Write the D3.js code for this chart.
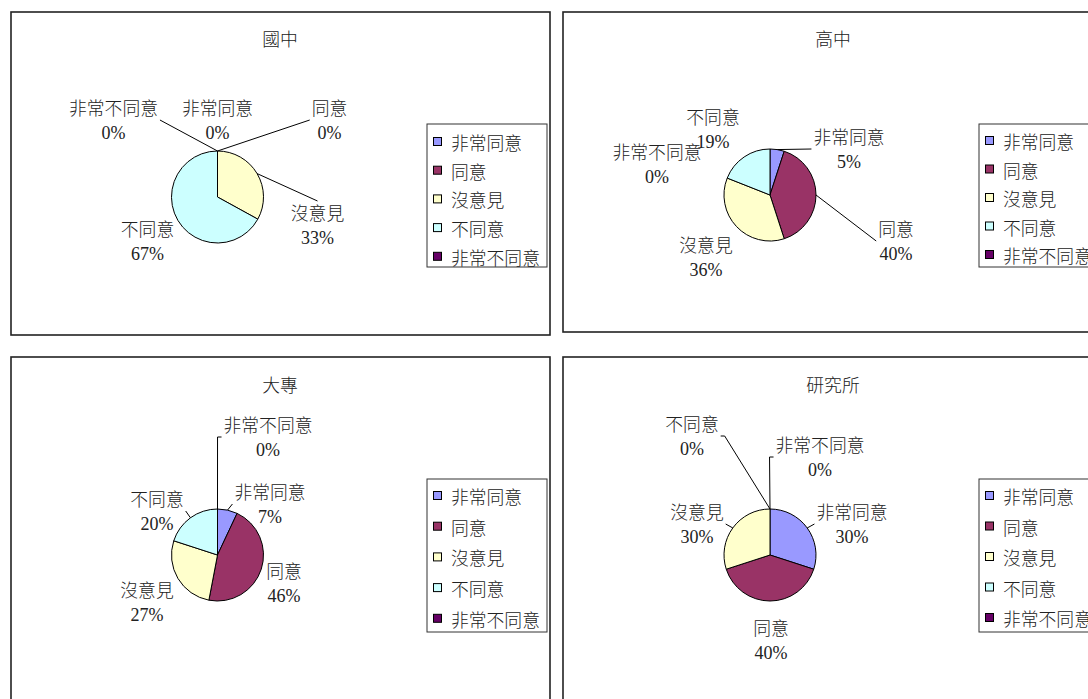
<!DOCTYPE html>
<html>
<head>
<meta charset="utf-8">
<script src="https://cdn.jsdelivr.net/npm/d3@7"></script>
<style>
  html, body { margin: 0; padding: 0; background: #fff; overflow: hidden; }
  svg { display: block; }
</style>
</head>
<body>
<svg id="chart" width="1088" height="699"></svg>
<script>
// ---------- DATA ----------
const categories = ["非常同意", "同意", "沒意見", "不同意", "非常不同意"];
const panelTitles = ["國中", "高中", "大專", "研究所"];
const pctJunior   = [0, 0, 33, 67, 0];
const pctSenior   = [5, 40, 36, 19, 0];
const pctCollege  = [7, 46, 27, 20, 0];
const pctGraduate = [30, 40, 30, 0, 0];
const seriesList = [pctJunior, pctSenior, pctCollege, pctGraduate];

// ---------- STYLE / LAYOUT ----------
const colors = ["#9999FF", "#993366", "#FFFFCC", "#CCFFFF", "#660066"];
const cjkFont = "'Noto Sans CJK TC', 'Noto Sans CJK SC', sans-serif";
const numFont = "'Liberation Serif', 'Times New Roman', serif";
const cjkSize = 17.8;

const layouts = [
  { frame: [11, 12, 550, 335], center: [217.5, 197], r: 46, title: [280, 38],
    legend: { x: 427, y: 124, w: 120, h: 143, first: 142, step: 28.7 },
    labels: [
      { dx: 0,    dy: -90, lead: null },
      { dx: 112,  dy: -90, lead: "L" },
      { dx: 100,  dy: 15,  lead: "T" },
      { dx: -70,  dy: 31,  lead: null },
      { dx: -104, dy: -90, lead: "R" }
    ] },
  { frame: [563, 12, 1100, 332], center: [770, 195], r: 46, title: [833, 38],
    legend: { x: 979, y: 124, w: 140, h: 143, first: 141, step: 28.5 },
    labels: [
      { dx: 79,   dy: -59, lead: "L" },
      { dx: 126,  dy: 33,  lead: "L" },
      { dx: -64,  dy: 49,  lead: null },
      { dx: -57,  dy: -79, lead: null },
      { dx: -113, dy: -44, lead: null }
    ] },
  { frame: [11, 357, 550, 712], center: [217.5, 555], r: 46, title: [280, 384],
    legend: { x: 427, y: 479, w: 120, h: 153, first: 496, step: 30.7 },
    labels: [
      { dx: 52.5,  dy: -64,  lead: "L" },
      { dx: 66.5,  dy: 15,   lead: null },
      { dx: -70.5, dy: 34,   lead: null },
      { dx: -60.5, dy: -57,  lead: "R" },
      { dx: 50.5,  dy: -131, lead: "L", elbow: true }
    ] },
  { frame: [563, 357, 1100, 712], center: [770, 555], r: 46, title: [833, 384],
    legend: { x: 979, y: 479, w: 140, h: 153, first: 496, step: 30.5 },
    labels: [
      { dx: 82,  dy: -44,  lead: "L" },
      { dx: 1,   dy: 72,   lead: null },
      { dx: -73, dy: -44,  lead: "R" },
      { dx: -78, dy: -132, lead: "R", elbow: true },
      { dx: 50,  dy: -111, lead: "L", elbow: true }
    ] }
];

const svg = d3.select("#chart");
const color = d3.scaleOrdinal().domain(categories).range(colors);
const pie = d3.pie().sort(null).value(d => d.value);

seriesList.forEach((values, pi) => {
  const L = layouts[pi];
  const g = svg.append("g");
  const [x0, y0, x1, y1] = L.frame;

  // frame
  g.append("rect")
    .attr("x", x0).attr("y", y0)
    .attr("width", x1 - x0).attr("height", y1 - y0)
    .attr("fill", "#fff").attr("stroke", "#222").attr("stroke-width", 1.6);

  // title
  g.append("text")
    .attr("x", L.title[0]).attr("y", L.title[1])
    .attr("text-anchor", "middle").attr("dominant-baseline", "central")
    .attr("font-family", cjkFont).attr("font-size", cjkSize).attr("font-weight", 300)
    .attr("fill", "#222")
    .text(panelTitles[pi]);

  const data = categories.map((c, i) => ({ cat: c, value: values[i] }));
  const arcs = pie(data);
  const arc = d3.arc().innerRadius(0).outerRadius(L.r);
  const [cx, cy] = L.center;

  const pg = g.append("g").attr("transform", `translate(${cx},${cy})`);
  pg.selectAll("path.slice")
    .data(arcs.filter(a => a.data.value > 0))
    .join("path")
    .attr("class", "slice")
    .attr("d", arc)
    .attr("fill", d => color(d.data.cat))
    .attr("stroke", "#000").attr("stroke-width", 1);

  // labels
  arcs.forEach((a, i) => {
    const lab = L.labels[i];
    const lx = cx + lab.dx, ly = cy + lab.dy;
    const nameT = g.append("text")
      .attr("x", lx).attr("y", ly)
      .attr("text-anchor", "middle").attr("dominant-baseline", "central")
      .attr("font-family", cjkFont).attr("font-size", cjkSize).attr("font-weight", 300)
      .attr("fill", "#222")
      .text(a.data.cat);
    g.append("text")
      .attr("x", lx).attr("y", ly + 26)
      .attr("text-anchor", "middle").attr("dominant-baseline", "central")
      .attr("font-family", numFont).attr("font-size", 18)
      .attr("fill", "#222")
      .text(d3.format(".0f")(a.data.value) + "%");

    if (lab.lead) {
      const w = nameT.node().getComputedTextLength();
      const mid = (a.startAngle + a.endAngle) / 2;
      const px = cx + L.r * Math.sin(mid), py = cy - L.r * Math.cos(mid);
      let ax, ay;
      if (lab.lead === "L") { ax = lx - w / 2 - 2; ay = ly + 13; }
      else if (lab.lead === "R") { ax = lx + w / 2 + 2; ay = ly + 13; }
      else { ax = lx; ay = ly - 11; }
      const pts = [[px, py]];
      if (lab.elbow) pts.push([lab.lead === "L" ? ax - 4 : ax + 4, ay]);
      pts.push([ax, ay]);
      g.append("path")
        .attr("d", d3.line()(pts))
        .attr("fill", "none").attr("stroke", "#000").attr("stroke-width", 1);
    }
  });

  // legend
  const lg = L.legend;
  g.append("rect")
    .attr("x", lg.x).attr("y", lg.y).attr("width", lg.w).attr("height", lg.h)
    .attr("fill", "#fff").attr("stroke", "#333").attr("stroke-width", 1);
  categories.forEach((c, i) => {
    const iy = lg.first + i * lg.step;
    g.append("rect")
      .attr("x", lg.x + 6.5).attr("y", iy - 4.5).attr("width", 8).attr("height", 8)
      .attr("fill", color(c)).attr("stroke", "#000").attr("stroke-width", 1);
    g.append("text")
      .attr("x", lg.x + 24).attr("y", iy)
      .attr("dominant-baseline", "central")
      .attr("font-family", cjkFont).attr("font-size", cjkSize).attr("font-weight", 300)
      .attr("fill", "#222")
      .text(c);
  });
});
</script>
</body>
</html>
